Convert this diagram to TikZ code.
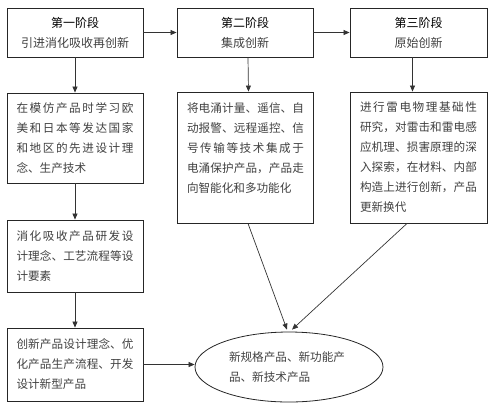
\documentclass[tikz,border=0pt]{standalone}
\usepackage{fontspec}
\newfontfamily\cjk{Noto Sans CJK SC}
\usetikzlibrary{shapes.geometric,arrows.meta}
\XeTeXlinebreaklocale "zh"
\XeTeXlinebreakskip=0pt plus 3pt
\begin{document}
\begin{tikzpicture}[x=1pt,y=-1pt,
  box/.style={draw=black!85,line width=0.9pt,inner xsep=9.5pt,inner ysep=0pt,text width=117pt,
    font=\cjk\fontsize{11.6}{20}\selectfont,text=black!75},
  titlebox/.style={draw=black!85,line width=0.9pt,minimum width=136pt,minimum height=49pt,align=center,
    font=\cjk\fontsize{12}{20}\selectfont,inner sep=0pt},
  arr/.style={draw=black!80,line width=0.7pt,-{Triangle[length=6pt,width=5pt]}}]
\useasboundingbox (0,0) rectangle (492,408);
% top row
\node[titlebox] (t1) at (75,32.5) {第一阶段\\{\color{black!75}引进消化吸收再创新}};
\node[titlebox] (t2) at (245,32.5) {第二阶段\\{\color{black!75}集成创新}};
\node[titlebox,minimum width=137pt] (t3) at (418.5,32.5) {第三阶段\\{\color{black!75}原始创新}};
% left column
\node[box,align=justify,minimum height=90pt] (b4) at (75,138)
  {在模仿产品时学习欧\linebreak 美和日本等发达国家\linebreak 和地区的先进设计理\linebreak 念、生产技术};
\node[box,align=justify,minimum height=72pt] (b5) at (75,256)
  {消化吸收产品研发设\linebreak 计理念、工艺流程等设\linebreak 计要素};
\node[box,align=justify,minimum height=73pt] (b6) at (75,364.5)
  {创新产品设计理念、优\linebreak 化产品生产流程、开发\linebreak 设计新型产品};
% middle & right
\node[box,align=justify,minimum height=131pt] (b7) at (245.5,157.5)
  {将电涌计量、遥信、自\linebreak 动报警、远程遥控、信\linebreak 号传输等技术集成于\linebreak 电涌保护产品，产品走\linebreak 向智能化和多功能化\\ \mbox{}};
\node[box,align=justify,minimum height=131pt,inner xsep=10pt] (b8) at (418.5,157.5)
  {进行雷电物理基础性\linebreak 研究，对雷击和雷电感\linebreak 应机理、损害原理的深\linebreak 入探索，在材料、内部\linebreak 构造上进行创新，产品\linebreak 更新换代};
% ellipse
\node[ellipse,draw=black!85,line width=0.8pt,minimum width=188pt,minimum height=70pt,inner sep=0pt,
  text width=120pt,align=left,font=\cjk\fontsize{11.6}{20}\selectfont,text=black!75] (e) at (289,367)
  {新规格产品、新功能产\\品、新技术产品};
% arrows
\draw[arr] (t1.east) -- (t2.west);
\draw[arr] (t2.east) -- (t3.west);
\draw[arr] (t1.south) -- (b4.north);
\draw[arr] (b4.south) -- (b5.north);
\draw[arr] (b5.south) -- (b6.north);
\draw[arr] ([xshift=3pt]t2.south) -- ([xshift=3pt]b7.north);
\draw[arr] ([xshift=-6pt]t3.south) -- ([xshift=-6pt]b8.north);
\draw[arr] ([xshift=2.5pt]b7.south) -- ([xshift=-2pt,yshift=2pt]e.north);
\draw[arr] ([xshift=-11.5pt]b8.south) -- ([xshift=3pt,yshift=2pt]e.north);
\draw[arr] (b6.east) -- (b6.east -| e.west);
\end{tikzpicture}
\end{document}
